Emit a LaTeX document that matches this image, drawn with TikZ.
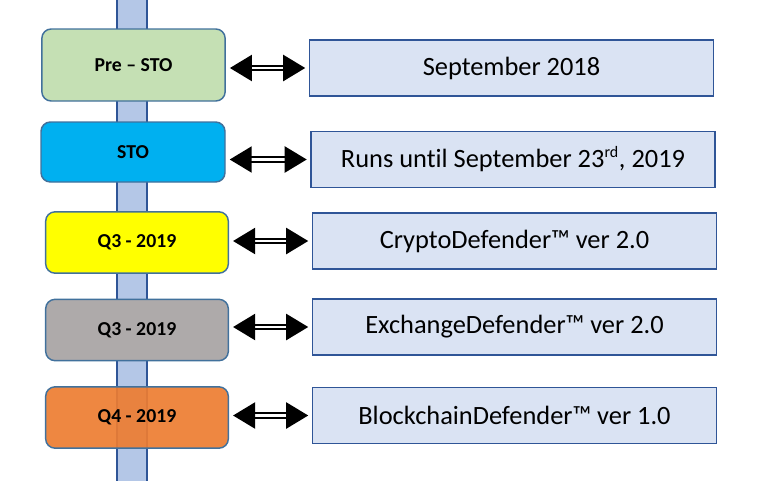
\documentclass[tikz,border=0pt]{standalone}
\usepackage{fontspec}
\setmainfont[Ligatures=NoCommon]{Carlito}
\usetikzlibrary{positioning, arrows.meta}

\definecolor{spinefill}{HTML}{B4C7E7}
\definecolor{spineline}{HTML}{2F5597}
\definecolor{edgeblue}{HTML}{41719C}
\definecolor{datefill}{HTML}{DAE3F3}
\definecolor{presto}{HTML}{C5E0B4}
\definecolor{stoblue}{HTML}{00B0F0}
\definecolor{qyellow}{HTML}{FFFF00}
\definecolor{qgray}{HTML}{AEAAAA}
\definecolor{qorange}{HTML}{ED7D31}

\begin{document}
\begin{tikzpicture}[
x=0.75pt, y=-0.75pt,
phase/.style={rectangle, draw=edgeblue, line width=1.1pt, rounded corners=7pt, minimum width=137pt, minimum height=46pt, align=center, font=\fontsize{14.8}{17}\selectfont\bfseries},
datebox/.style={rectangle, draw=spineline, line width=1.4pt, fill=datefill, minimum width=303pt, minimum height=42pt, align=center, font=\fontsize{19.8}{23}\selectfont},
spine/.style={rectangle, draw=spineline, line width=0.8pt, fill=spinefill, minimum width=22.5pt, minimum height=380pt, inner sep=0pt},
link/.style={draw=black, line width=1.6pt, double=white, double distance=1.9pt, {Triangle[length=16.5pt, width=19.5pt]}-{Triangle[length=16.5pt, width=19.5pt]}, shorten <=3pt, shorten >=2.5pt},
]
\useasboundingbox (0,0) rectangle (768,480);

% Timeline bar
\node[spine] (bar) at (132,240) {};

% Phases
\node[phase, fill=presto, minimum height=54pt, minimum width=137.5pt] (pre) at (133.5,65) {Pre -- STO};
\node[phase, fill=stoblue, minimum height=45pt, minimum width=138pt] (sto) at (133,152) {STO};
\node[phase, fill=qyellow] (qthree) at (137,242.5) {Q3 - 2019};
\node[phase, fill=qgray] (qthreeb) at (137,330) {Q3 - 2019};
\node[phase, fill=qorange, fill opacity=0.92, text opacity=1] (qfour) at (137,417.5) {Q4 - 2019};

% Dates
\node[datebox] (sep) at (511.5,68) {September 2018};
\node[datebox] (runs) at (513,159.5) {Runs until September 23\textsuperscript{\fontsize{12}{12}\selectfont rd}, 2019};
\node[datebox] (crypto) at (514.5,241) {CryptoDefender™ ver 2.0};
\node[datebox] (exchange) at (514.5,327) {ExchangeDefender™ ver 2.0};
\node[datebox] (chain) at (514.5,415.5) {BlockchainDefender™ ver 1.0};

% Arrows
\draw[link] (pre.east |- sep) -- (sep);
\draw[link] (sto.east |- runs) -- (runs);
\draw[link] (qthree.east |- crypto) -- (crypto);
\draw[link] (qthreeb.east |- exchange) -- (exchange);
\draw[link] (qfour.east |- chain) -- (chain);

\end{tikzpicture}
\end{document}
